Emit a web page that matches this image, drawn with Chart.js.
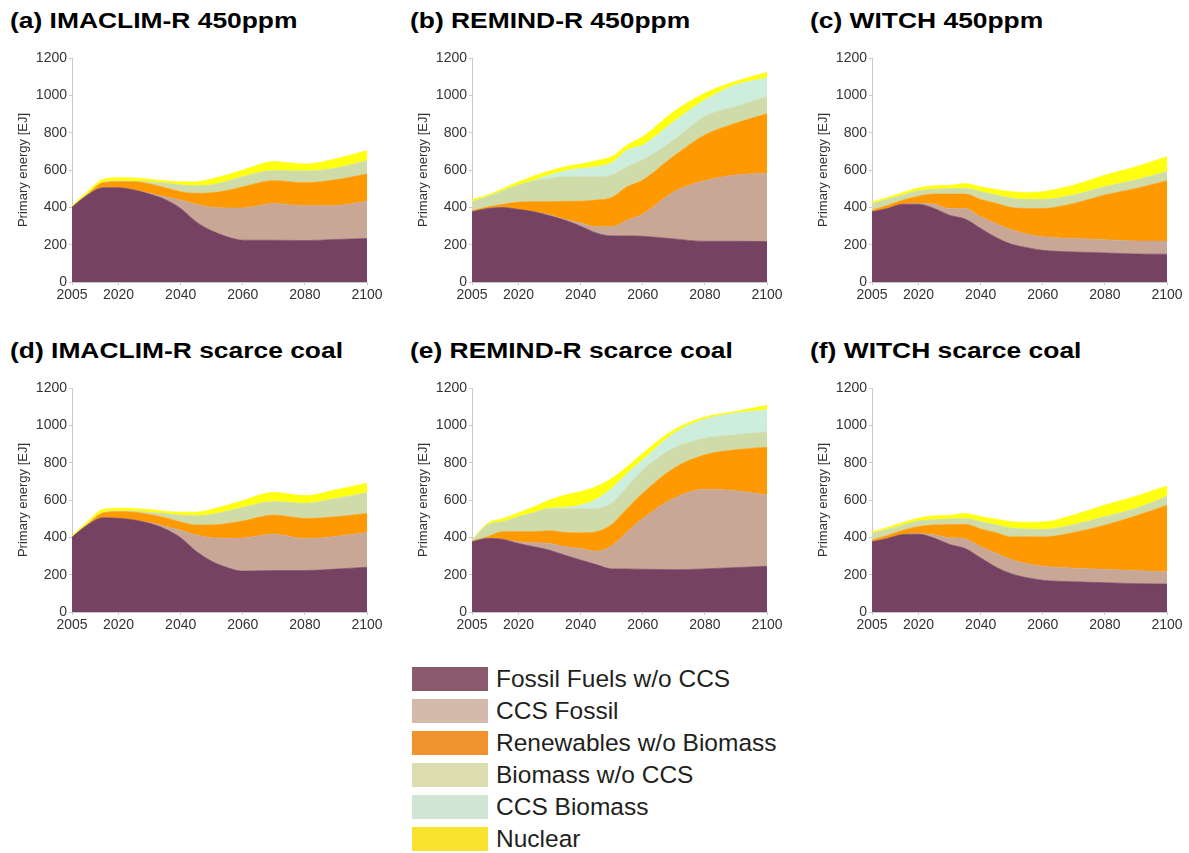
<!DOCTYPE html>
<html>
<head>
<meta charset="utf-8">
<script src="https://cdn.jsdelivr.net/npm/chart.js@4.4.0/dist/chart.umd.min.js"></script>
<style>
  html, body { margin: 0; padding: 0; background: #fff; overflow: hidden; }
  body { width: 1189px; height: 853px; position: relative; font-family: "Liberation Sans", Arial, sans-serif; }
  .panel { position: absolute; }
  .title { position: absolute; font-weight: bold; font-size: 22px; line-height: 22px; color: #000;
           white-space: nowrap; transform: scaleX(1.2); transform-origin: left top; }
  #legend { position: absolute; left: 412px; top: 663px; }
  .row { display: flex; align-items: center; height: 32px; }
  .sw { width: 76px; height: 24px; margin-right: 8px; }
  .lbl { font-size: 24.5px; line-height: 32px; color: #231f20; white-space: nowrap; }
</style>
</head>
<body>

<div class="title" style="left:10px;top:10px">(a) IMACLIM-R 450ppm</div>
<div class="title" style="left:410px;top:10px">(b) REMIND-R 450ppm</div>
<div class="title" style="left:810px;top:10px">(c) WITCH 450ppm</div>
<div class="title" style="left:10px;top:340px">(d) IMACLIM-R scarce coal</div>
<div class="title" style="left:410px;top:340px">(e) REMIND-R scarce coal</div>
<div class="title" style="left:810px;top:340px">(f) WITCH scarce coal</div>

<div class="panel" style="left:0;top:40px;width:400px;height:270px"><canvas id="ca"></canvas></div>
<div class="panel" style="left:400px;top:40px;width:400px;height:270px"><canvas id="cb"></canvas></div>
<div class="panel" style="left:800px;top:40px;width:389px;height:270px"><canvas id="cc"></canvas></div>
<div class="panel" style="left:0;top:370px;width:400px;height:270px"><canvas id="cd"></canvas></div>
<div class="panel" style="left:400px;top:370px;width:400px;height:270px"><canvas id="ce"></canvas></div>
<div class="panel" style="left:800px;top:370px;width:389px;height:270px"><canvas id="cf"></canvas></div>

<div id="legend"></div>

<script>
// years shared by every panel
var years = [2005,2010,2015,2020,2025,2030,2035,2040,2045,2050,2055,2060,2070,2080,2090,2100];
var xTicks = [2005,2020,2040,2060,2080,2100];
var seriesNames = ['Fossil Fuels w/o CCS','CCS Fossil','Renewables w/o Biomass','Biomass w/o CCS','CCS Biomass','Nuclear'];

// (a) IMACLIM-R 450ppm
var aFossil   = [400,466,505,505,493,471,442,394,322,274,242,224,224,222,228,233];
var aCcsFos   = [0,0,0,0,0,4,15,45,95,126,155,173,197,186,182,200];
var aRenew    = [2,4,27,32,44,50,48,45,58,78,93,113,122,124,138,145];
var aBio      = [1,2,1,3,3,10,25,36,40,42,50,54,53,62,62,72];
var aCcsBio   = [0,0,0,0,0,0,0,0,0,0,0,0,0,0,0,0];
var aNuclear  = [7,13,17,19,18,15,12,17,22,33,35,36,49,38,50,54];

// (b) REMIND-R 450ppm
var bFossil   = [376,394,399,389,376,355,331,299,263,247,247,245,231,218,218,217];
var bCcsFos   = [0,0,0,0,0,5,4,18,33,49,84,119,253,325,355,365];
var bRenew    = [6,8,17,39,54,70,97,116,143,157,179,182,191,245,278,319];
var bBio      = [48,55,73,91,113,125,132,131,125,120,108,108,86,99,89,93];
var bCcsBio   = [0,0,0,0,2,18,32,45,54,66,89,80,99,89,117,99];
var bNuclear  = [12,9,12,18,23,23,22,23,32,33,27,45,53,36,18,30];

// (c) WITCH 450ppm
var cFossil   = [376,394,417,417,394,358,337,287,238,202,184,170,161,156,150,149];
var cCcsFos   = [0,0,0,4,23,36,57,62,75,76,72,72,72,71,70,70];
var cRenew    = [9,16,22,39,54,77,77,93,108,121,138,152,188,239,281,324];
var cBio      = [36,32,27,29,25,29,30,42,45,49,48,48,45,44,45,48];
var cCcsBio   = [0,0,0,0,0,0,0,0,0,0,0,0,0,0,0,0];
var cNuclear  = [9,11,14,16,20,18,27,26,30,36,38,42,53,63,72,81];

// (d) IMACLIM-R scarce coal
var dFossil   = [400,466,505,502,493,475,445,398,325,272,238,219,222,222,230,240];
var dCcsFos   = [0,0,0,0,0,3,15,40,87,126,156,177,195,172,175,186];
var dRenew    = [2,4,25,35,42,44,45,44,54,68,80,91,102,107,105,102];
var dBio      = [1,2,2,3,5,11,22,36,49,56,66,73,72,81,98,111];
var dCcsBio   = [0,0,0,0,0,0,0,0,0,0,0,0,0,0,0,0];
var dNuclear  = [7,13,18,16,15,16,13,17,20,28,33,37,50,41,47,51];

// (e) REMIND-R scarce coal
var eFossil   = [376,394,389,367,349,331,304,278,254,231,231,229,227,231,238,245];
var eCcsFos   = [0,0,0,9,22,36,45,62,72,124,199,272,382,426,412,382];
var eRenew    = [4,9,41,54,59,68,77,84,104,114,125,135,161,185,219,256];
var eBio      = [3,63,54,80,102,120,129,131,125,113,117,125,108,89,80,81];
var eCcsBio   = [0,0,0,0,0,0,5,18,49,81,71,54,80,102,117,120];
var eNuclear  = [3,9,17,22,32,45,67,72,68,53,36,36,18,11,9,23];

// (f) WITCH scarce coal
var fFossil   = [376,394,415,417,396,362,340,290,240,204,184,170,162,157,152,150];
var fCcsFos   = [0,0,0,4,18,36,52,60,75,76,74,75,73,72,70,65];
var fRenew    = [9,16,23,37,52,70,78,95,110,122,145,157,191,236,293,357];
var fBio      = [36,32,27,29,28,30,30,39,41,46,41,40,42,45,40,47];
var fCcsBio   = [0,0,0,0,0,0,0,0,0,0,0,0,0,0,0,0];
var fNuclear  = [9,11,15,16,21,20,28,28,31,36,37,40,52,63,65,57];

var areaColors   = ['#764262','#c8a796','#ff9900','#cfdcaa','#cdeedd','#ffff10'];
var legendColors = ['#8c5a6f','#d4baab','#f0922e','#dbdcb0','#d1e5d5','#f8e22d'];

var fontFam = '"Liberation Sans", Arial, sans-serif';

function grafico(id, series, rightPad) {
  var ctx = document.getElementById(id).getContext('2d');
  var datasets = series.map(function(vals, i) {
    return {
      label: seriesNames[i],
      data: vals.map(function(v, k) { return {x: years[k], y: v}; }),
      backgroundColor: areaColors[i],
      borderColor: areaColors[i],
      borderWidth: 0.6,
      pointRadius: 0,
      fill: i === 0 ? 'origin' : '-1',
      cubicInterpolationMode: 'monotone'
    };
  });
  new Chart(ctx, {
    type: 'line',
    data: { datasets: datasets },
    options: {
      responsive: true,
      maintainAspectRatio: false,
      animation: false,
      layout: { padding: { left: 12, top: 18, right: rightPad, bottom: 0 } },
      plugins: { legend: { display: false }, tooltip: { enabled: false } },
      scales: {
        x: {
          type: 'linear', min: 2005, max: 2100,
          afterBuildTicks: function(s) { s.ticks = xTicks.map(function(v) { return {value: v}; }); },
          afterFit: function(s) { s.height = 28; },
          grid: { drawOnChartArea: false, tickLength: 3, color: '#c8c8c8' },
          border: { color: '#c8c8c8' },
          ticks: { color: '#333', padding: 2, maxRotation: 0, autoSkip: false,
                   font: { family: fontFam, size: 14 },
                   callback: function(v) { return String(v); } }
        },
        y: {
          stacked: true, min: 0, max: 1200,
          afterFit: function(s) { s.width = 60; },
          grid: { drawOnChartArea: false, tickLength: 3, color: '#c8c8c8' },
          border: { color: '#c8c8c8' },
          ticks: { stepSize: 200, color: '#333', padding: 2, font: { family: fontFam, size: 14 },
                   callback: function(v) { return String(v); } },
          title: { display: true, text: 'Primary energy [EJ]', color: '#333', padding: { top: 4, bottom: 4 },
                   font: { family: fontFam, size: 13 } }
        }
      }
    }
  });
}

grafico('ca', [aFossil, aCcsFos, aRenew, aBio, aCcsBio, aNuclear], 33);
grafico('cb', [bFossil, bCcsFos, bRenew, bBio, bCcsBio, bNuclear], 33);
grafico('cc', [cFossil, cCcsFos, cRenew, cBio, cCcsBio, cNuclear], 22);
grafico('cd', [dFossil, dCcsFos, dRenew, dBio, dCcsBio, dNuclear], 33);
grafico('ce', [eFossil, eCcsFos, eRenew, eBio, eCcsBio, eNuclear], 33);
grafico('cf', [fFossil, fCcsFos, fRenew, fBio, fCcsBio, fNuclear], 22);

// legend as html text
var leg = document.getElementById('legend');
seriesNames.forEach(function(name, i) {
  var row = document.createElement('div');
  row.className = 'row';
  row.innerHTML = '<div class="sw" style="background:' + legendColors[i] + '"></div><span class="lbl">' + name + '</span>';
  leg.appendChild(row);
});
</script>
</body>
</html>
